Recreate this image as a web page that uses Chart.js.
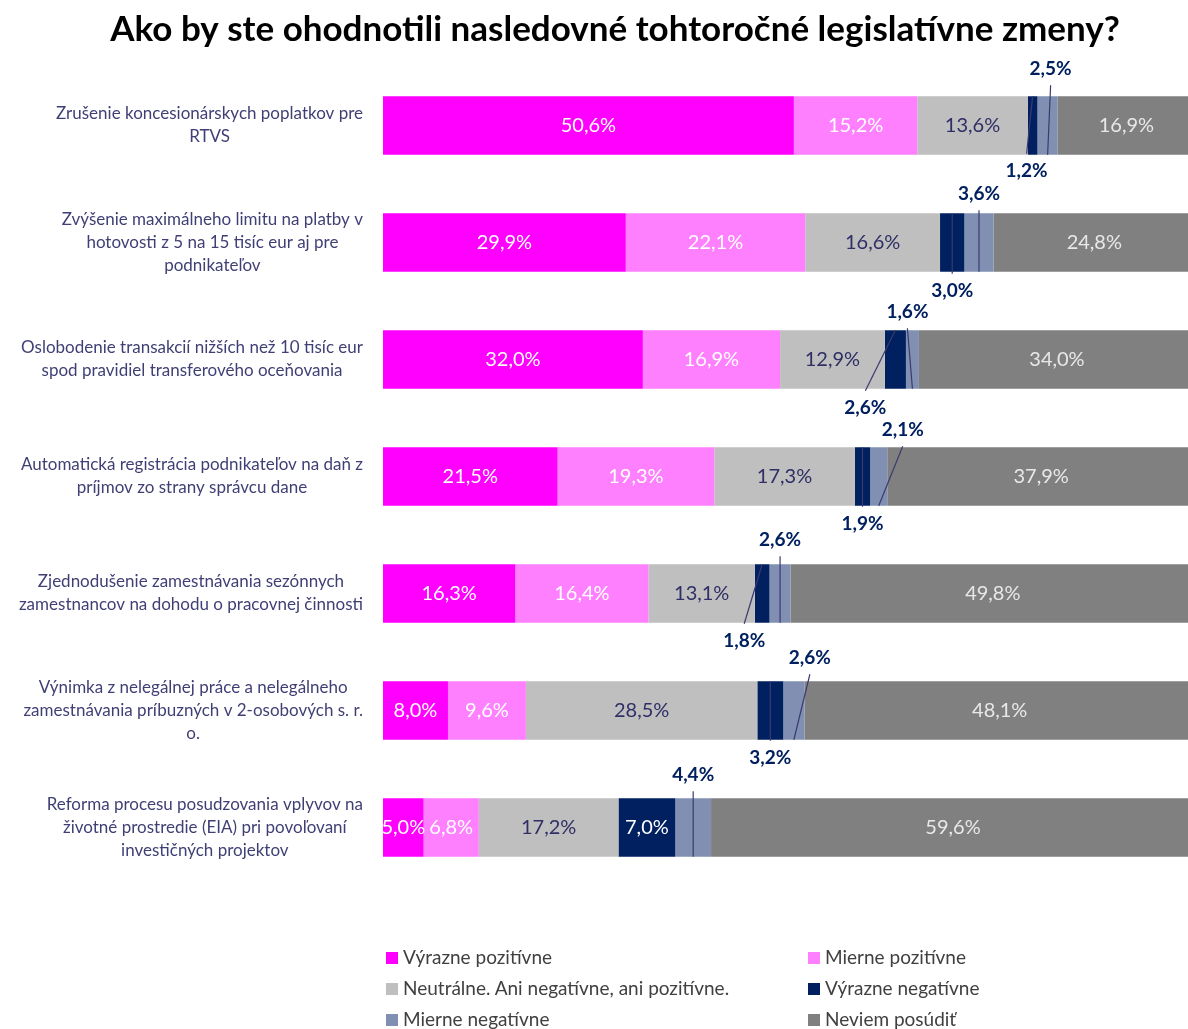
<!DOCTYPE html>
<html><head><meta charset="utf-8">
<script src="https://cdn.jsdelivr.net/npm/chart.js@4/dist/chart.umd.min.js"></script>
<style>
html,body{margin:0;padding:0;background:#fff;overflow:hidden;}
#wrap{position:relative;width:1188px;height:1029px;overflow:hidden;background:#fff;}
canvas{position:absolute;left:0;top:0;}
.leg{position:absolute;font-family:Lato,sans-serif;font-size:19px;color:#404040;white-space:nowrap;line-height:20px;height:20px;}
.leg .sw{position:absolute;left:0;top:4px;width:12px;height:12px;}
.leg .tx{position:absolute;left:17px;top:-1px;}
</style></head>
<body><div id="wrap"><canvas id="c" width="1195" height="1029"></canvas><div id="legend"></div></div>
<script>
// ---- data ----
const categories = [
  ["Zrušenie koncesionárskych poplatkov pre", "RTVS"],
  ["Zvýšenie maximálneho limitu na platby v", "hotovosti z 5 na 15 tisíc eur aj pre", "podnikateľov"],
  ["Oslobodenie transakcií nižších než 10 tisíc eur", "spod pravidiel transferového oceňovania"],
  ["Automatická registrácia podnikateľov na daň z", "príjmov zo strany správcu dane"],
  ["Zjednodušenie zamestnávania sezónnych", "zamestnancov na dohodu o pracovnej činnosti"],
  ["Výnimka z nelegálnej práce a nelegálneho", "zamestnávania príbuzných v 2-osobových s. r.", "o."],
  ["Reforma procesu posudzovania vplyvov na", "životné prostredie (EIA) pri povoľovaní", "investičných projektov"]
];
const seriesNames = ["Výrazne pozitívne", "Mierne pozitívne", "Neutrálne. Ani negatívne, ani pozitívne.", "Výrazne negatívne", "Mierne negatívne", "Neviem posúdiť"];
const vyraznePozitivne = [50.6, 29.9, 32.0, 21.5, 16.3, 8.0, 5.0];
const miernePozitivne  = [15.2, 22.1, 16.9, 19.3, 16.4, 9.6, 6.8];
const neutralne        = [13.6, 16.6, 12.9, 17.3, 13.1, 28.5, 17.2];
const vyrazneNegativne = [1.2, 3.0, 2.6, 1.9, 1.8, 3.2, 7.0];
const mierneNegativne  = [2.5, 3.6, 1.6, 2.1, 2.6, 2.6, 4.4];
const neviemPosudit    = [16.9, 24.8, 34.0, 37.9, 49.8, 48.1, 59.6];
const titleText = "Ako by ste ohodnotili nasledovné tohtoročné legislatívne zmeny?";

// ---- style ----
const colors = ["#FF00FF", "#FF80FF", "#BFBFBF", "#002060", "#8190B2", "#808080"];
const insideLabelColors = ["#FFFFFF", "#FFFFFF", "#2F2F66", "#FFFFFF", "#FFFFFF", "#E8E8E8"];
const calloutColor = "#002060";
const leaderColor = "#3A3A70";
// callout tweaks (label offsets relative to segment)
const navyDx   = [-6, 0, -30, 0, -18, 0, 0];
const mierneDx = [3, 0, -5, 24, 0, 16, 0];
const aboveDy  = [-27, -19, -18, -17, -24, -23, -23];
const belowDy  = [16, 19, 19, 18, 18, 18, 18];
const LABEL_RIGHT = 363, LINE_H = 23;
const TITLE_X = 615, TITLE_Y = 30;

const fmt = v => v.toFixed(1).replace('.', ',') + '%';
const allSeries = [vyraznePozitivne, miernePozitivne, neutralne, vyrazneNegativne, mierneNegativne, neviemPosudit];

const labelPlugin = {
  id: 'customLabels',
  afterDatasetsDraw(chart) {
    const ctx = chart.ctx;
    const ys = chart.scales.y;
    ctx.save();
    ctx.textAlign = 'center';
    ctx.textBaseline = 'middle';
    // title
    ctx.font = 'bold 35px Lato';
    ctx.fillStyle = '#000000';
    ctx.fillText(titleText, TITLE_X, TITLE_Y);
    // category labels
    ctx.font = '17px Lato';
    ctx.fillStyle = '#403F75';
    categories.forEach((lines, i) => {
      const y = ys.getPixelForValue(i);
      const w = Math.max(...lines.map(l => ctx.measureText(l).width));
      const cx = LABEL_RIGHT - w / 2;
      const n = lines.length;
      lines.forEach((l, k) => ctx.fillText(l, cx, y + (k - (n - 1) / 2) * LINE_H));
    });
    // data labels
    chart.data.datasets.forEach((ds, di) => {
      const meta = chart.getDatasetMeta(di);
      meta.data.forEach((bar, i) => {
        const v = ds.data[i];
        const p = bar.getProps(['x', 'y', 'base', 'height'], true);
        const left = Math.min(p.x, p.base), right = Math.max(p.x, p.base);
        const cx = (left + right) / 2;
        const top = p.y - p.height / 2, bottom = p.y + p.height / 2;
        const txt = fmt(v);
        if (v >= 4.5) {
          ctx.font = '20px Lato';
          ctx.fillStyle = insideLabelColors[di];
          ctx.fillText(txt, cx, p.y);
        } else {
          const above = di === 4;
          const dx = above ? mierneDx[i] : navyDx[i];
          const ly = above ? top + aboveDy[i] : bottom + belowDy[i];
          ctx.strokeStyle = leaderColor;
          ctx.lineWidth = 1.2;
          ctx.beginPath();
          ctx.moveTo(cx + dx, above ? ly + 16 : ly - 17);
          ctx.lineTo(cx, above ? bottom : top);
          ctx.stroke();
          ctx.font = 'bold 19px Lato';
          ctx.fillStyle = calloutColor;
          ctx.fillText(txt, cx + dx, ly);
        }
      });
    });
    ctx.restore();
  }
};

new Chart(document.getElementById('c'), {
  type: 'bar',
  data: {
    labels: categories.map(c => c.join(' ')),
    datasets: allSeries.map((d, k) => ({
      label: seriesNames[k],
      data: d,
      backgroundColor: colors[k],
      borderWidth: 0,
      barPercentage: 0.5,
      categoryPercentage: 1.0
    }))
  },
  options: {
    indexAxis: 'y',
    responsive: false,
    animation: false,
    devicePixelRatio: 1,
    layout: { padding: { left: 383, right: 0, top: 67, bottom: 143 } },
    scales: {
      x: { stacked: true, min: 0, max: 100, display: false },
      y: { stacked: true, display: false, offset: true }
    },
    plugins: {
      legend: { display: false },
      tooltip: { enabled: false },
      title: { display: false }
    }
  },
  plugins: [labelPlugin]
});

// legend (two columns)
const legendEl = document.getElementById('legend');
const legCols = [386, 808], legRows = [958, 989, 1020];
seriesNames.forEach((name, k) => {
  const d = document.createElement('div');
  d.className = 'leg';
  d.style.left = legCols[k % 2] + 'px';
  d.style.top = (legRows[Math.floor(k / 2)] - 10) + 'px';
  d.innerHTML = '<span class="sw" style="background:' + colors[k] + '"></span><span class="tx"></span>';
  d.querySelector('.tx').textContent = name;
  legendEl.appendChild(d);
});
</script>
</body></html>
